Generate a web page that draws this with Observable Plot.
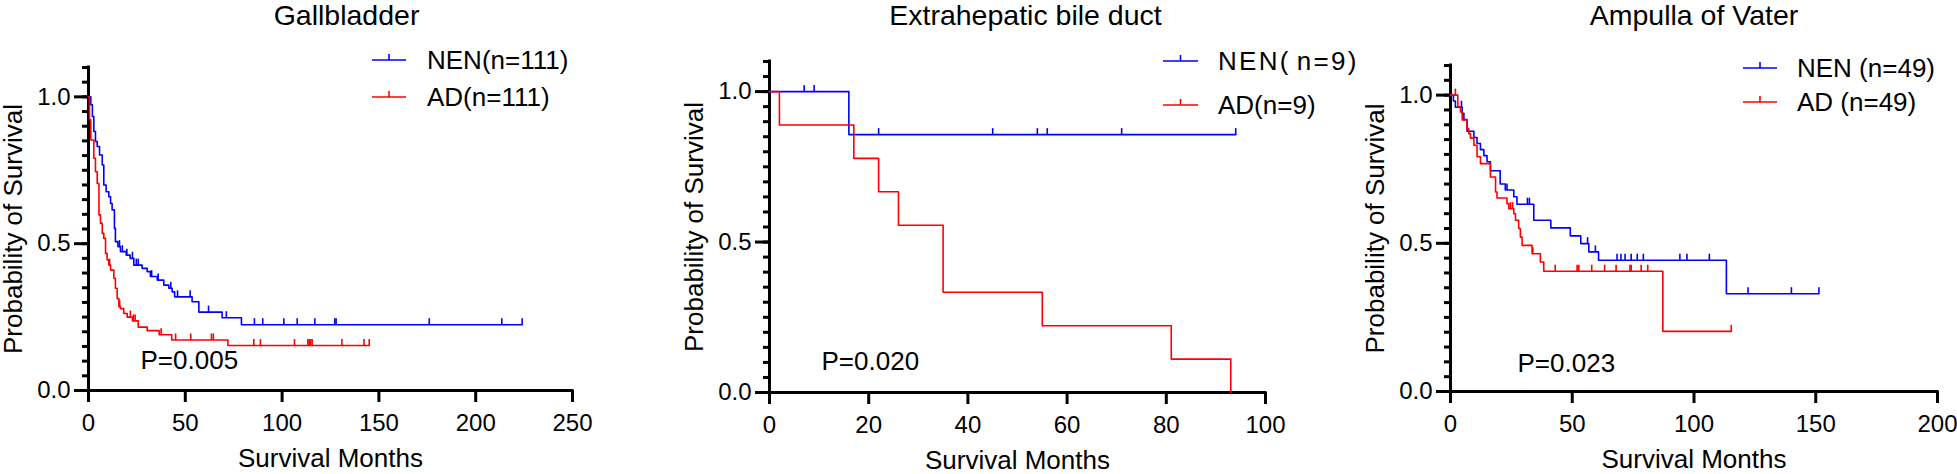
<!DOCTYPE html>
<html>
<head>
<meta charset="utf-8">
<script src="https://cdn.jsdelivr.net/npm/d3@7"></script>
<script src="https://cdn.jsdelivr.net/npm/@observablehq/plot@0.6"></script>
<style>
  html, body { margin: 0; padding: 0; background: #fff; }
  #wrap { display: flex; flex-direction: row; width: 1957px; height: 474px; overflow: hidden; background: #fff; }
  #wrap svg { display: block; overflow: visible; }
</style>
</head>
<body>
<div id="wrap"></div>
<script>
// ---------- Gallbladder ----------
const gbNenTime = [0,1.2,2.0,2.75,3.6,4.5,5.7,7.1,7.9,9.1,10.5,11.4,12.2,13.4,13.9,15.2,16.5,19.5,21.5,23.4,27.7,30.3,32,35.5,38.9,41.5,43.2,44.5,53.5,57,69,79,224];
const gbNenSurv = [1.0,0.973,0.933,0.882,0.848,0.831,0.802,0.768,0.700,0.677,0.660,0.637,0.615,0.552,0.507,0.490,0.473,0.461,0.45,0.427,0.416,0.405,0.388,0.376,0.359,0.348,0.336,0.319,0.302,0.267,0.248,0.224,0.224];
const gbNenCensor = [16,17.5,19.8,22.7,24.7,25.7,32.6,36,42.5,46,52.5,62,71.2,85.7,90,100.9,107.8,116.9,127.2,127.9,176,213.5,224];

const gbAdTime = [0,0.5,1.2,2.75,3.6,4.5,5.4,6.2,7.1,7.9,8.8,9.6,10.5,11.4,13.1,13.9,14.8,15.7,16.5,18.2,20,22.7,25.7,30.3,36.5,43,72,145];
const gbAdSurv = [1.0,0.922,0.853,0.791,0.745,0.705,0.598,0.569,0.535,0.518,0.467,0.445,0.427,0.41,0.382,0.348,0.313,0.285,0.279,0.262,0.25,0.237,0.216,0.204,0.19,0.172,0.153,0.153];
const gbAdCensor = [10.9,16.1,21.6,23.2,24.1,37.5,45,52.8,63.5,64.5,85.4,88.8,106.4,113.3,114,114.7,115.5,130.9,142.3,145];

// ---------- Extrahepatic bile duct ----------
const ebNenTime = [0,16,94];
const ebNenSurv = [1.0,0.857,0.857];
const ebNenCensor = [7,9,22,45,54,56,71,94];

const ebAdTime = [0,2,17,22,26,35,55,81,93];
const ebAdSurv = [1.0,0.889,0.778,0.667,0.556,0.333,0.222,0.111,0];
const ebAdCensor = [];

// ---------- Ampulla of Vater ----------
const avNenTime = [0,1.2,2.0,4.8,5.5,6.8,9.6,10.9,12.3,13.7,15.0,16.4,20.4,22.5,26.0,27.3,34.2,41.2,49.2,53.5,56.8,60.8,113.3,151.3];
const avNenSurv = [1.0,0.98,0.959,0.939,0.918,0.878,0.857,0.837,0.816,0.796,0.775,0.745,0.70,0.68,0.657,0.632,0.578,0.552,0.525,0.499,0.471,0.443,0.33,0.33];
const avNenCensor = [4.5,23.2,31.6,32.4,56.3,59.5,68.4,70,71.7,74.2,76.7,79.2,94.2,97.1,106.3,122.2,140,151.3];

const avAdTime = [0,3.0,4.1,4.8,6.8,7.5,8.2,9.6,10.9,12.3,16.4,18.5,19.1,23.2,23.9,26.0,26.7,28.0,28.7,29.4,33.5,36.9,38.3,87.2,115.3];
const avAdSurv = [1.0,0.961,0.943,0.916,0.887,0.870,0.855,0.831,0.792,0.769,0.724,0.673,0.653,0.634,0.617,0.6,0.578,0.55,0.521,0.493,0.465,0.437,0.406,0.203,0.203];
const avAdCensor = [2.0,24.6,25.5,33.8,43,52,52.7,58,63.3,68,73.7,74.2,78.3,81,115.3];

// ---------- labels ----------
const titles = ["Gallbladder", "Extrahepatic bile duct", "Ampulla of Vater"];
const xMaxes = [250, 100, 200];
const xTickSets = [[0,50,100,150,200,250],[0,20,40,60,80,100],[0,50,100,150,200]];
const yMajorTicks = [0, 0.5, 1.0];
const yMinorTicks = d3.range(0, 23).map(i => +(i * 0.05).toFixed(2));
const pLabels = ["P=0.005", "P=0.020", "P=0.023"];
const nenLabels = ["NEN(n=111)", "NEN(n=9)", "NEN (n=49)"];
const adLabels = ["AD(n=111)", "AD(n=9)", "AD (n=49)"];
const xLabel = "Survival Months";
const yLabel = "Probability of Survival";

const BLUE = "#0000ff", RED = "#ff0000";
const FONT = "'Liberation Sans', Arial, Helvetica, sans-serif";

function series(time, surv) { return time.map((t, i) => ({t, s: surv[i]})); }
function censorPts(times, time, surv) {
  return times.map(c => {
    let s = surv[0];
    for (let i = 0; i < time.length; i++) if (time[i] <= c + 1e-9) s = surv[i];
    return {t: c, s};
  });
}
const tickSymbol = { draw(ctx) { ctx.moveTo(0, 0); ctx.lineTo(0, -6.5); } };

// layout (pixels) for each panel
const layouts = [
  {width: 650, ml: 88, mr: 78, mt: 67, mb: 84, titleDx: 16, pDx: 52, pDy: -30,
   leg: {x1: 372, x2: 406, tx: 427, y1: 60, y2: 97}},
  {width: 710, ml: 119, mr: 95, mt: 61, mb: 82, titleDx: 8, pDx: 52, pDy: -31,
   leg: {x1: 513, x2: 548, tx: 568, y1: 61, y2: 105, nenSpacing: 2.3}},
  {width: 597, ml: 90, mr: 20, mt: 65, mb: 83, titleDx: 0, pDx: 67, pDy: -28,
   leg: {x1: 383, x2: 417, tx: 437, y1: 68, y2: 102}}
];

const panels = [
  {nen: series(gbNenTime, gbNenSurv), ad: series(gbAdTime, gbAdSurv),
   nenC: censorPts(gbNenCensor, gbNenTime, gbNenSurv), adC: censorPts(gbAdCensor, gbAdTime, gbAdSurv)},
  {nen: series(ebNenTime, ebNenSurv), ad: series(ebAdTime, ebAdSurv),
   nenC: censorPts(ebNenCensor, ebNenTime, ebNenSurv), adC: censorPts(ebAdCensor, ebAdTime, ebAdSurv)},
  {nen: series(avNenTime, avNenSurv), ad: series(avAdTime, avAdSurv),
   nenC: censorPts(avNenCensor, avNenTime, avNenSurv), adC: censorPts(avAdCensor, avAdTime, avAdSurv)}
];

const wrap = document.getElementById("wrap");

panels.forEach((p, k) => {
  const L = layouts[k];
  const xMax = xMaxes[k];
  const plot = Plot.plot({
    width: L.width, height: 474,
    marginLeft: L.ml, marginRight: L.mr, marginTop: L.mt, marginBottom: L.mb,
    x: {domain: [0, xMax], label: null},
    y: {domain: [0, 1.1], label: null},
    style: {fontFamily: FONT, fontSize: "24px", color: "#000", background: "transparent", overflow: "visible"},
    marks: [
      Plot.axisY({ticks: yMinorTicks, tickSize: 6, strokeWidth: 3, tickFormat: () => "", label: null}),
      Plot.axisY({ticks: yMajorTicks, tickSize: 14, tickPadding: 4, strokeWidth: 3, fontSize: 24,
                  tickFormat: d3.format(".1f"), label: null}),
      Plot.axisX({ticks: xTickSets[k], tickSize: 12, tickPadding: 11, strokeWidth: 3, fontSize: 24,
                  tickFormat: d3.format("d"), label: null}),
      Plot.ruleY([0], {x1: 0, x2: xMax, strokeWidth: 3, strokeLinecap: "square"}),
      Plot.ruleX([0], {y1: 0, y2: 1.1, strokeWidth: 3, strokeLinecap: "square"}),
      Plot.line(p.nen, {x: "t", y: "s", curve: "step-after", stroke: BLUE, strokeWidth: 1.6}),
      Plot.line(p.ad, {x: "t", y: "s", curve: "step-after", stroke: RED, strokeWidth: 1.6}),
      Plot.dot(p.nenC, {x: "t", y: "s", symbol: tickSymbol, r: 4, fill: "none", stroke: BLUE, strokeWidth: 1.6}),
      Plot.dot(p.adC, {x: "t", y: "s", symbol: tickSymbol, r: 4, fill: "none", stroke: RED, strokeWidth: 1.6}),
      Plot.text([titles[k]], {frameAnchor: "top", dx: L.titleDx, dy: 15 - L.mt, fontSize: 28.5,
                              textAnchor: "middle", lineAnchor: "middle"}),
      Plot.text([xLabel], {frameAnchor: "bottom", dy: 68, fontSize: 26, textAnchor: "middle", lineAnchor: "middle"}),
      Plot.text([yLabel], {frameAnchor: "left", dx: -75, rotate: -90, fontSize: 26,
                           textAnchor: "middle", lineAnchor: "middle"}),
      Plot.text([pLabels[k]], {frameAnchor: "bottom-left", dx: L.pDx, dy: L.pDy, fontSize: 26,
                               textAnchor: "start", lineAnchor: "middle"})
    ]
  });

  // legend
  const svg = d3.select(plot);
  const g = svg.append("g").attr("font-family", FONT).attr("font-size", 26)
    .attr("fill", "#000").attr("text-anchor", "start");
  const entries = [
    {label: nenLabels[k], color: BLUE, y: L.leg.y1, spacing: L.leg.nenSpacing || 0},
    {label: adLabels[k], color: RED, y: L.leg.y2, spacing: 0}
  ];
  entries.forEach(e => {
    g.append("line").attr("x1", L.leg.x1).attr("x2", L.leg.x2).attr("y1", e.y).attr("y2", e.y)
      .attr("stroke", e.color).attr("stroke-width", 1.6);
    const cx = (L.leg.x1 + L.leg.x2) / 2;
    g.append("line").attr("x1", cx).attr("x2", cx).attr("y1", e.y).attr("y2", e.y - 6)
      .attr("stroke", e.color).attr("stroke-width", 1.6);
    const t = g.append("text").attr("x", L.leg.tx).attr("y", e.y + 9.4).attr("text-anchor", "start");
    if (e.spacing) {
      const m = e.label.match(/^([A-Z]+\()(.*)$/);
      t.attr("letter-spacing", e.spacing);
      t.append("tspan").text(m[1]);
      t.append("tspan").attr("dx", 6).text(m[2]);
    } else {
      t.text(e.label);
    }
  });

  wrap.appendChild(plot);
});
</script>
</body>
</html>
